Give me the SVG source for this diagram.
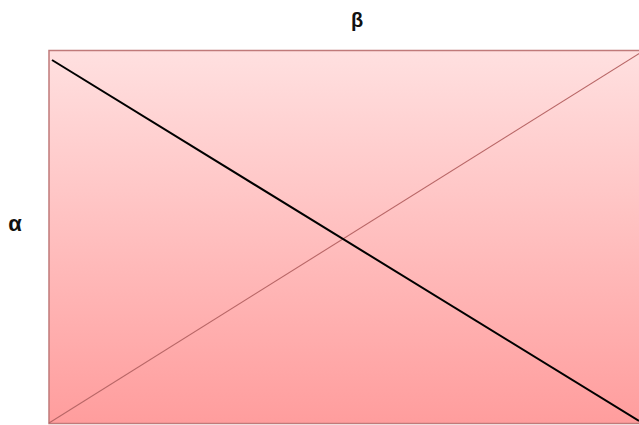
<svg xmlns="http://www.w3.org/2000/svg" width="639" height="425" viewBox="0 0 639 425">
<defs>
<linearGradient id="fill" x1="0" y1="0" x2="0" y2="1">
<stop offset="0" stop-color="#ffe0e0"/>
<stop offset="1" stop-color="#ff9d9d"/>
</linearGradient>
<style>
.lbl{font-family:"Liberation Sans",Arial,sans-serif;font-weight:bold;font-size:20px;fill:#111;text-anchor:middle}
</style>
</defs>
<rect width="639" height="425" fill="#ffffff"/>
<g id="box">
<rect x="49" y="50.5" width="595" height="373" fill="url(#fill)" stroke="#c07a7a" stroke-width="1.5"/>
</g>
<g id="connectors">
<line x1="49" y1="423" x2="640" y2="53" stroke="#b86666" stroke-width="1.1"/>
<line x1="52" y1="60" x2="639" y2="421" stroke="#000" stroke-width="2"/>
</g>
<g id="labels">
<text class="lbl" x="357" y="27">β</text>
<text class="lbl" x="15" y="231" style="font-size:22px">α</text>
</g>
</svg>
